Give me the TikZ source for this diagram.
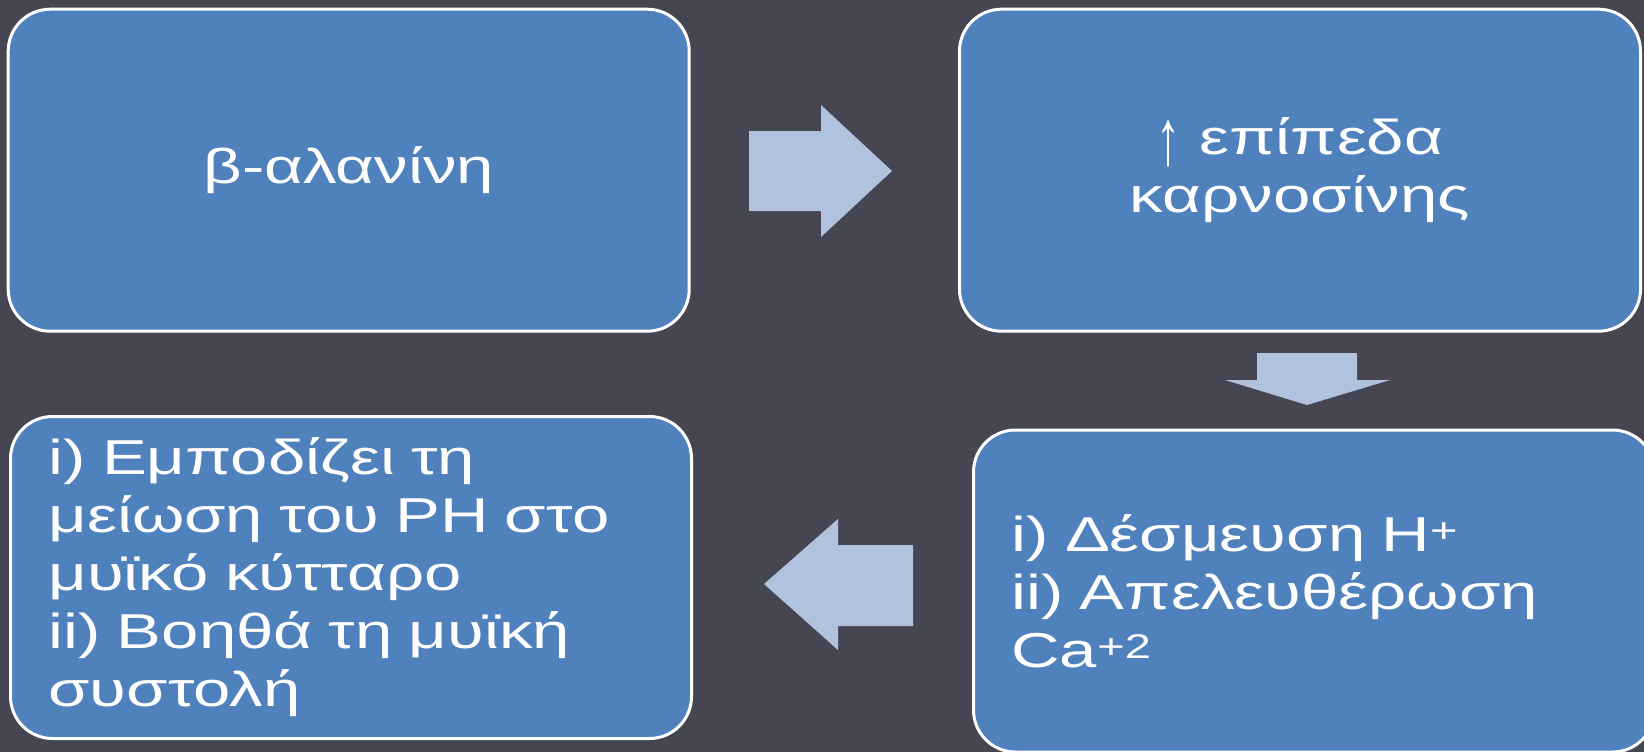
\documentclass[tikz,border=0pt]{standalone}
\usepackage{fontspec}
\usepackage{graphicx}
\setmainfont[FakeStretch=1.37]{Liberation Sans}
\definecolor{bg}{RGB}{70,70,82}
\definecolor{boxblue}{RGB}{79,129,189}
\definecolor{arrowblue}{RGB}{176,194,222}
\newcommand{\uparr}{\raisebox{-10pt}{\resizebox{24pt}{44pt}{↑}}}
\begin{document}
\begin{tikzpicture}[x=1pt,y=-1pt,
  box/.style={draw=white, line width=3pt, fill=boxblue, rounded corners=42pt,
    minimum width=681pt, minimum height=322pt, text=white,
    font=\fontsize{49}{58}\selectfont, inner sep=0pt},
  leftbox/.style={box, align=left, text width=605pt, inner xsep=38pt},
  blockarrow/.style={fill=arrowblue}]
\useasboundingbox (0,0) rectangle (1644,752);
\fill[bg] (0,0) rectangle (1644,752);
\clip (0,0) rectangle (1644,752);
\node[box, align=center] (b1) at (348.7,170.2) {β-αλανίνη};
\node[box, align=center] (b2) at (1300,170.2) {\uparr{} επίπεδα\\καρνοσίνης};
\node[leftbox] (b3) at (1314,591) {i) Δέσμευση H\textsuperscript{+}\\ii) Απελευθέρωση\\Ca\textsuperscript{+2}};
\node[leftbox] (b4) at (351,577.5) {i) Εμποδίζει τη\\μείωση του PH στο\\μυϊκό κύτταρο\\ii) Βοηθά τη μυϊκή\\συστολή};
\fill[blockarrow] (749,131) -- (821,131) -- (821,105) -- (892,171) -- (821,237) -- (821,211) -- (749,211) -- cycle;
\fill[blockarrow] (1257,353) -- (1357,353) -- (1357,380) -- (1390,380) -- (1307,405) -- (1225,380) -- (1257,380) -- cycle;
\fill[blockarrow] (913,545) -- (838,545) -- (838,519) -- (764,584) -- (838,650) -- (838,626) -- (913,626) -- cycle;
\end{tikzpicture}
\end{document}
